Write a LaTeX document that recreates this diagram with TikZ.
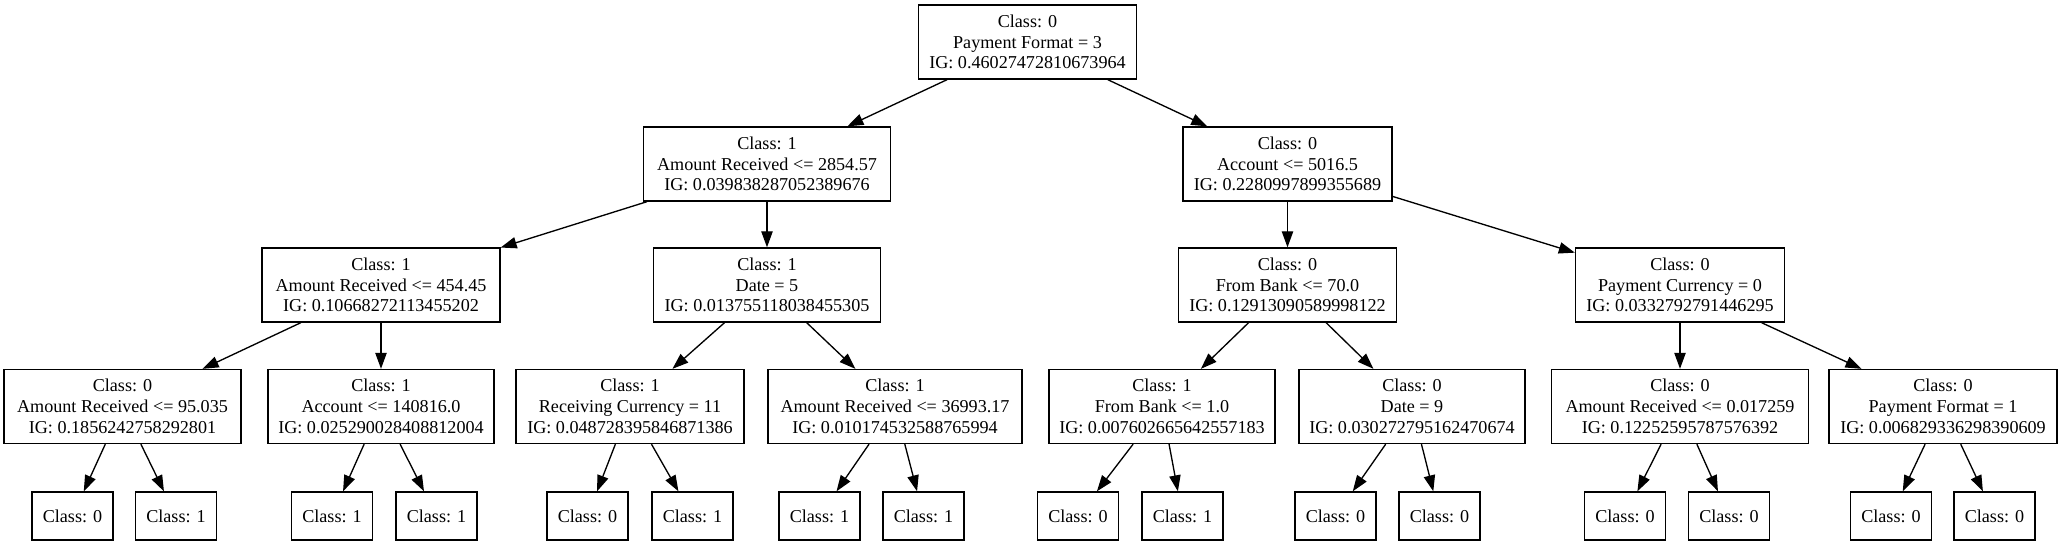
\documentclass[tikz,border=0pt]{standalone}
\usepackage{fontspec}
\setmainfont{Liberation Serif}
\usetikzlibrary{arrows.meta}
\begin{document}
\begin{tikzpicture}[x=0.75pt,y=-0.75pt,
  box/.style={draw, line width=1pt, align=center, inner sep=0pt,
    font=\fontsize{13.6}{15.6}\selectfont, minimum height=55.5pt},
  leaf/.style={box, minimum height=36pt, minimum width=60.75pt},
  edge/.style={line width=1pt, -{Triangle[length=12pt,width=8.5pt]}}]
\useasboundingbox (0,0) rectangle (2061,545);
% level 0
\node[box, minimum width=163.5pt] (r) at (1027.5,42) {Class: 0\\Payment Format = 3\\IG: 0.46027472810673964};
% level 1
\node[box, minimum width=185.25pt] (a) at (767,164) {Class: 1\\Amount Received <= 2854.57\\IG: 0.039838287052389676};
\node[box, minimum width=156.75pt] (b) at (1287.5,164) {Class: 0\\Account <= 5016.5\\IG: 0.2280997899355689};
% level 2
\node[box, minimum width=178.5pt] (aa) at (381,285) {Class: 1\\Amount Received <= 454.45\\IG: 0.10668272113455202};
\node[box, minimum width=170.25pt] (ab) at (767,285) {Class: 1\\Date = 5\\IG: 0.013755118038455305};
\node[box, minimum width=163.5pt] (ba) at (1287.5,285) {Class: 0\\From Bank <= 70.0\\IG: 0.12913090589998122};
\node[box, minimum width=156.75pt] (bb) at (1680,285) {Class: 0\\Payment Currency = 0\\IG: 0.0332792791446295};
% level 3
\node[box, minimum width=177.75pt] (n1) at (122.5,406.5) {Class: 0\\Amount Received <= 95.035\\IG: 0.1856242758292801};
\node[box, minimum width=169.5pt] (n2) at (381,406.5) {Class: 1\\Account <= 140816.0\\IG: 0.025290028408812004};
\node[box, minimum width=171pt] (n3) at (630,406.5) {Class: 1\\Receiving Currency = 11\\IG: 0.048728395846871386};
\node[box, minimum width=190.5pt] (n4) at (895,406.5) {Class: 1\\Amount Received <= 36993.17\\IG: 0.010174532588765994};
\node[box, minimum width=169.5pt] (n5) at (1162,406.5) {Class: 1\\From Bank <= 1.0\\IG: 0.007602665642557183};
\node[box, minimum width=169.5pt] (n6) at (1412,406.5) {Class: 0\\Date = 9\\IG: 0.030272795162470674};
\node[box, minimum width=192.75pt] (n7) at (1680,406.5) {Class: 0\\Amount Received <= 0.017259\\IG: 0.12252595787576392};
\node[box, minimum width=171pt] (n8) at (1943,406.5) {Class: 0\\Payment Format = 1\\IG: 0.006829336298390609};
% leaves
\node[leaf] (l1) at (72.5,516) {Class: 0};
\node[leaf] (l2) at (176,516) {Class: 1};
\node[leaf] (l3) at (332,516) {Class: 1};
\node[leaf] (l4) at (436.5,516) {Class: 1};
\node[leaf] (l5) at (587.5,516) {Class: 0};
\node[leaf] (l6) at (692.5,516) {Class: 1};
\node[leaf] (l7) at (819.5,516) {Class: 1};
\node[leaf] (l8) at (923.5,516) {Class: 1};
\node[leaf] (l9) at (1078,516) {Class: 0};
\node[leaf] (l10) at (1182.5,516) {Class: 1};
\node[leaf] (l11) at (1335.5,516) {Class: 0};
\node[leaf] (l12) at (1439.5,516) {Class: 0};
\node[leaf] (l13) at (1625,516) {Class: 0};
\node[leaf] (l14) at (1729,516) {Class: 0};
\node[leaf] (l15) at (1891,516) {Class: 0};
\node[leaf] (l16) at (1994.5,516) {Class: 0};
% edges
\draw[edge] (r) -- (a);
\draw[edge] (r) -- (b);
\draw[edge] (a) -- (aa);
\draw[edge] (a) -- (ab);
\draw[edge] (b) -- (ba);
\draw[edge] (b) -- (bb);
\draw[edge] (aa) -- (n1);
\draw[edge] (aa) -- (n2);
\draw[edge] (ab) -- (n3);
\draw[edge] (ab) -- (n4);
\draw[edge] (ba) -- (n5);
\draw[edge] (ba) -- (n6);
\draw[edge] (bb) -- (n7);
\draw[edge] (bb) -- (n8);
\draw[edge] (n1) -- (l1);
\draw[edge] (n1) -- (l2);
\draw[edge] (n2) -- (l3);
\draw[edge] (n2) -- (l4);
\draw[edge] (n3) -- (l5);
\draw[edge] (n3) -- (l6);
\draw[edge] (n4) -- (l7);
\draw[edge] (n4) -- (l8);
\draw[edge] (n5) -- (l9);
\draw[edge] (n5) -- (l10);
\draw[edge] (n6) -- (l11);
\draw[edge] (n6) -- (l12);
\draw[edge] (n7) -- (l13);
\draw[edge] (n7) -- (l14);
\draw[edge] (n8) -- (l15);
\draw[edge] (n8) -- (l16);
\end{tikzpicture}
\end{document}
